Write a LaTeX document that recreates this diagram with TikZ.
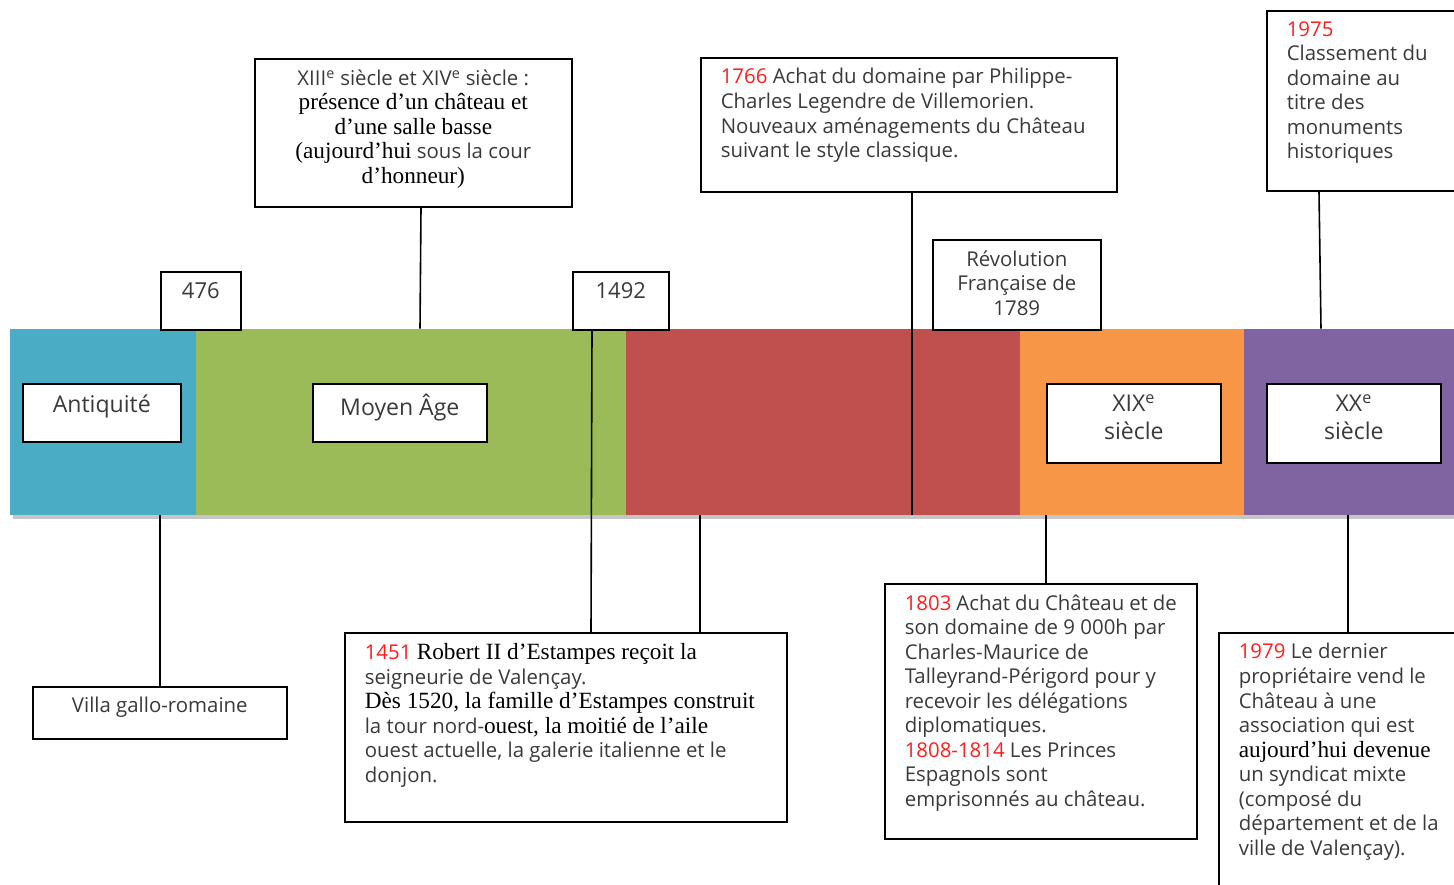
\documentclass[tikz,border=0pt]{standalone}
\usepackage{fontspec}
\setmainfont{Open Sans}
\newfontfamily\serif[Scale=1.14]{Liberation Serif}
\usetikzlibrary{fit,shadows,backgrounds}
\definecolor{antique}{HTML}{4BACC6}
\definecolor{moyen}{HTML}{9BBB59}
\definecolor{renais}{HTML}{C0504D}
\definecolor{dixneuf}{HTML}{F79646}
\definecolor{vingt}{HTML}{8064A2}
\definecolor{texte}{HTML}{3A3A3A}
\definecolor{annee}{HTML}{FF1E1E}
\newcommand{\an}[1]{\textcolor{annee}{#1}}
\newcommand{\sr}[1]{{\serif\color{black}#1}}
\newcommand{\tb}[3]{\parbox[c][#2][t]{#1}{\raggedright #3}}
\tikzset{
  seg/.style = {fill=#1, inner sep=0pt,
    drop shadow={shadow xshift=2pt, shadow yshift=-3pt, opacity=.45}},
  evt/.style = {draw=black, line width=1.2pt, fill=white, anchor=north west,
    inner xsep=15pt, inner ysep=8pt, text=texte,
    font=\fontsize{15.3}{18.4}\selectfont},% boite d'evenement
  lbl/.style = {evt, font=\fontsize{17.3}{21}\selectfont},% etiquette d'epoque
  conn/.style = {draw=black, line width=1.2pt}
}

\begin{document}
\begin{tikzpicture}[x=0.75pt,y=-0.75pt]
\useasboundingbox (0,0) rectangle (1454,885);

% les etiquettes
\node [lbl] (antiq) at (22,383) {\tb{88.5pt}{27.5pt}{\centering Antiquité}};
\node [lbl] (moyen) at (312,383) {\tb{100.5pt}{27.5pt}{\centering Moyen Âge}};
\node [lbl] (xix) at (1046,383) {\tb{100.5pt}{43.25pt}{\centering XIX\textsuperscript{e}\\ siècle}};
\node [lbl] (xx) at (1266,383) {\tb{100.5pt}{43.25pt}{\centering XX\textsuperscript{e}\\ siècle}};
\node [lbl, font=\fontsize{16.5}{19}\selectfont] (y476) at (160,271) {\tb{30pt}{27.5pt}{\centering 476}};
\node [lbl, font=\fontsize{16.5}{19}\selectfont] (y1492) at (572,271) {\tb{42pt}{27.5pt}{\centering 1492}};
\node [evt] (rev) at (932,239) {\tb{96pt}{51.5pt}{\centering Révolution\\ Française de\\ 1789}};
\node [evt] (villa) at (32,686) {\tb{160.5pt}{23pt}{\centering Villa gallo-romaine}};

% les evenements
\node [evt] (e13) at (254,58) {\tb{207.75pt}{95pt}{\centering
  XIII\textsuperscript{e} siècle et XIV\textsuperscript{e} siècle :\\
  \sr{présence d’un château et}\\
  \sr{d’une salle basse}\\
  \sr{(aujourd’hui} sous la cour\\
  \sr{d’honneur)}}};
\node [evt] (e1766) at (700,57) {\tb{282pt}{84.5pt}{%
  \an{1766} Achat du domaine par Philippe-\\
  Charles Legendre de Villemorien.\\
  Nouveaux aménagements du Château\\
  suivant le style classique.}};
\node [evt] (e1975) at (1266,10) {\tb{130pt}{119pt}{%
  \an{1975}\\ Classement du\\ domaine au\\ titre des\\ monuments\\ historiques}};
\node [evt] (e1451) at (344,632) {\tb{301.5pt}{125.75pt}{%
  \an{1451} \sr{Robert II d’Estampes reçoit la}\\
  seigneurie de Valençay.\\
  \sr{Dès 1520, la famille d’Estampes construit}\\
  la tour nord-\sr{ouest, la moitié de l’aile}\\
  ouest actuelle, la galerie italienne et le\\
  donjon.}};
\node [evt] (e1803) at (884,583) {\tb{204pt}{175.25pt}{%
  \an{1803} Achat du Château et de\\ son domaine de 9 000h par\\
  Charles-Maurice de\\ Talleyrand-Périgord pour y\\
  recevoir les délégations\\ diplomatiques.\\
  \an{1808-1814} Les Princes\\ Espagnols sont\\ emprisonnés au château.}};
\node [evt] (e1979) at (1218,632) {\tb{160pt}{179pt}{%
  \an{1979} Le dernier\\ propriétaire vend le\\ Château à une\\
  association qui est\\ \sr{aujourd’hui devenue}\\ un syndicat mixte\\
  (composé du\\ département et de la\\ ville de Valençay).}};

\begin{scope}[on background layer]
% les epoques
\node [seg=antique, fit={(10,329) (196,515)}] (seg1) {};
\node [seg=moyen, fit={(196,329) (626,515)}] (seg2) {};
\node [seg=renais, fit={(626,329) (1020,515)}] (seg3) {};
\node [seg=dixneuf, fit={(1020,329) (1244,515)}] (seg4) {};
\node [seg=vingt, fit={(1244,329) (1470,515)}] (seg5) {};
% les traits
\draw [conn] (villa.north) -- (villa.north |- seg1.south);
\draw [conn] (e13.south -| 421,0) -- (seg2.north -| 420,0);
\draw [conn] (y1492.south -| 592,0) -- (e1451.north -| 591,0);
\draw [conn] (seg3.south -| 700,0) -- (e1451.north -| 700,0);
\draw [conn] (e1766.south -| 912,0) -- (seg3.south -| 912,0);
\draw [conn] (seg4.south -| 1046,0) -- (e1803.north -| 1046,0);
\draw [conn] (e1975.south -| 1319,0) -- (seg5.north -| 1321,0);
\draw [conn] (seg5.south -| 1348,0) -- (e1979.north -| 1348,0);
\end{scope}
\end{tikzpicture}
\end{document}
